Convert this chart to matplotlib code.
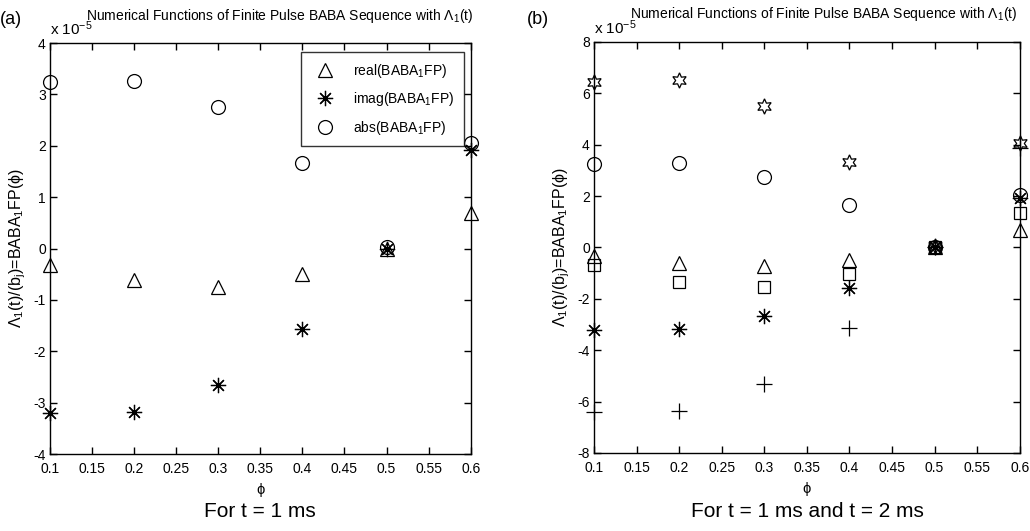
import numpy as np
import matplotlib
matplotlib.use("Agg")
import matplotlib.pyplot as plt

plt.rcParams['font.family'] = ['Liberation Sans', 'DejaVu Sans']
plt.rcParams['mathtext.fontset'] = 'custom'
plt.rcParams['mathtext.rm'] = 'Liberation Sans'
plt.rcParams['mathtext.it'] = 'Liberation Sans'
plt.rcParams['mathtext.default'] = 'regular'
plt.rcParams['axes.unicode_minus'] = False

# phase values
phi = [0.1, 0.2, 0.3, 0.4, 0.5, 0.6]

# t = 1 ms  (units of 1e-5)
real_1 = [-0.33, -0.62, -0.74, -0.50, 0.0, 0.69]
imag_1 = [-3.21, -3.19, -2.65, -1.57, 0.0, 1.92]
abs_1 = [3.25, 3.27, 2.75, 1.66, 0.02, 2.05]

# t = 2 ms
real_2 = [-0.69, -1.35, -1.53, -1.05, 0.0, 1.33]
imag_2 = [-6.42, -6.38, -5.30, -3.12, 0.0, 3.88]
abs_2 = [6.45, 6.52, 5.50, 3.31, 0.05, 4.08]

title = r"Numerical Functions of Finite Pulse BABA Sequence with $\Lambda_1$(t)"
ylab = r"$\Lambda_1$(t)/(b$_j$)=BABA$_1$FP(ϕ)"
xticks = np.arange(0.1, 0.601, 0.05)

ASTER = (8, 2, 0)  # matlab-like asterisk


def style(ax, ylim, yticks):
    ax.set_xlim(0.1, 0.6)
    ax.set_ylim(*ylim)
    ax.set_xticks(xticks)
    ax.set_xticklabels([f"{v:g}" for v in xticks])
    ax.set_yticks(yticks)
    ax.tick_params(direction='in', top=True, right=True, labelsize=10, length=5, width=1, pad=3)
    ax.tick_params(axis='x', pad=6)
    for s in ax.spines.values():
        s.set_linewidth(1.0)
    ax.set_xlabel("ϕ", fontsize=10.5, labelpad=5)
    ax.set_ylabel(ylab, fontsize=11.5, labelpad=4)
    ax.text(0.0, 1.012, r"x 10$^{-5}$", transform=ax.transAxes, fontsize=11, va='bottom', ha='left')
    ax.text(0.085, 1.045, title, transform=ax.transAxes, fontsize=10, va='bottom', ha='left')


def mk(ax, y, marker, size=10, label=None):
    ax.plot(phi, y, linestyle='none', marker=marker, markersize=size, markerfacecolor='none',
            markeredgecolor='black', markeredgewidth=0.9, clip_on=False, label=label)


fig = plt.figure(figsize=(10.3, 5.31), dpi=100)
ax1 = fig.add_axes([0.0485, 0.145, 0.4085, 0.774])
ax2 = fig.add_axes([0.5767, 0.147, 0.4133, 0.774])

mk(ax1, real_1, '^', 10, "real(BABA$_1$FP)")
mk(ax1, imag_1, ASTER, 11, "imag(BABA$_1$FP)")
mk(ax1, abs_1, 'o', 10, "abs(BABA$_1$FP)")
style(ax1, (-4, 4), np.arange(-4, 4.1, 1))
leg = ax1.legend(loc='upper right', bbox_to_anchor=(0.983, 0.978), borderaxespad=0, fontsize=10,
                 frameon=True, fancybox=False, edgecolor='black', borderpad=0.7, labelspacing=0.75,
                 handletextpad=1.0)
leg.get_frame().set_linewidth(1.0)

mk(ax2, real_1, '^', 10)
mk(ax2, imag_1, ASTER, 11)
mk(ax2, abs_1, 'o', 10)
mk(ax2, real_2, 's', 9)
mk(ax2, imag_2, '+', 12)
mk(ax2, abs_2, (6, 1, 0), 11)
style(ax2, (-8, 8), np.arange(-8, 8.1, 2))

fig.text(0.0, 0.955, "(a)", fontsize=13)
fig.text(0.512, 0.955, "(b)", fontsize=13)
fig.text(0.252, 0.026, "For t = 1 ms", fontsize=15, ha='center')
fig.text(0.784, 0.026, "For t = 1 ms and t = 2 ms", fontsize=15, ha='center')

fig.savefig("out.png", dpi=100)
